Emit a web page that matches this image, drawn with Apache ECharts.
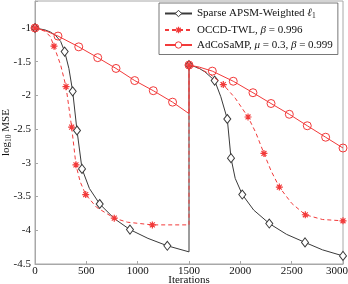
<!DOCTYPE html>
<html>
<head>
<meta charset="utf-8">
<script src="https://cdn.jsdelivr.net/npm/echarts@6/dist/echarts.min.js"></script>
<style>html,body{margin:0;padding:0;background:#fff;}#c{width:348px;height:284px;}</style>
</head>
<body>
<div id="c"></div>
<script>
// ---- data ----
var xTicks = [0, 500, 1000, 1500, 2000, 2500, 3000];
var yTicks = [-4.5, -4, -3.5, -3, -2.5, -2, -1.5, -1];

var seriesNames = ['Sparse APSM-Weighted ℓ1', 'OCCD-TWL, β = 0.996', 'AdCoSaMP, μ = 0.3, β = 0.999'];

var apsmX = [0, 100, 150, 200, 250, 289, 330, 367, 409, 458, 530, 630, 775, 925, 1100, 1289, 1500,
             1500, 1550, 1600, 1655, 1750, 1810, 1873, 1909, 1950, 2019, 2130, 2282, 2450, 2630, 2800, 3000];
var apsmY = [-1.00, -1.03, -1.06, -1.11, -1.20, -1.35, -1.60, -1.94, -2.52, -3.09, -3.38, -3.61, -3.83, -3.99, -4.12, -4.23, -4.32,
             -1.55, -1.57, -1.60, -1.65, -1.78, -2.02, -2.35, -2.93, -3.23, -3.47, -3.70, -3.90, -4.06, -4.18, -4.29, -4.38];
var apsmMarks = [0, 5, 7, 8, 9, 11, 13, 15, 17, 21, 23, 24, 26, 28, 30, 32];

var occdX = [0, 100, 150, 185, 250, 302, 357, 399, 440, 494, 600, 772, 900, 1143, 1500,
             1500, 1600, 1700, 1834, 1950, 2075, 2150, 2230, 2300, 2380, 2500, 2633, 2800, 3000];
var occdY = [-1.00, -1.05, -1.13, -1.27, -1.55, -1.87, -2.47, -3.03, -3.28, -3.47, -3.66, -3.82, -3.88, -3.92, -3.92,
             -1.55, -1.60, -1.68, -1.84, -2.04, -2.32, -2.55, -2.86, -3.12, -3.36, -3.60, -3.77, -3.84, -3.86];
var occdMarks = [0, 3, 5, 6, 7, 9, 11, 13, 15, 18, 20, 22, 24, 26, 28];

var adcoX = [0, 100, 224, 426, 611, 789, 971, 1152, 1340, 1500,
             1500, 1600, 1727, 1931, 2123, 2299, 2477, 2652, 2831, 3000];
var adcoY = [-1.00, -1.04, -1.12, -1.28, -1.44, -1.60, -1.78, -1.93, -2.10, -2.27,
             -1.55, -1.58, -1.64, -1.79, -1.96, -2.12, -2.28, -2.45, -2.62, -2.78];
var adcoMarks = [0, 2, 3, 4, 5, 6, 7, 8, 10, 12, 13, 14, 15, 16, 17, 18, 19];

// ---- build ----
function build(xs, ys, marks) {
  return xs.map(function (x, i) {
    var item = { value: [x, ys[i]] };
    if (marks.indexOf(i) < 0) item.symbol = 'none';
    return item;
  });
}
var SERIF = '"Liberation Serif", "DejaVu Serif", serif';
var RED = '#f23a3a';
var BLACK = '#3a3a3a';
var starPath = 'path://M5,0L5,10M0,5L10,5M1.5,1.5L8.5,8.5M8.5,1.5L1.5,8.5';

var chart = echarts.init(document.getElementById('c'), null, { renderer: 'canvas' });
chart.setOption({
  animation: false,
  backgroundColor: '#fff',
  grid: { left: 35, right: 5, top: 1, bottom: 20, containLabel: false, outerBoundsMode: 'none',
          show: true, borderColor: '#a8a8a8', borderWidth: 1 },
  legend: {
    data: [
      { name: seriesNames[0], itemStyle: { color: '#fff', borderColor: BLACK, borderWidth: 1 } },
      { name: seriesNames[1], itemStyle: { color: 'rgba(0,0,0,0)', borderColor: RED, borderWidth: 1.2 } },
      { name: seriesNames[2], itemStyle: { color: '#fff', borderColor: RED, borderWidth: 1 } }
    ],
    orient: 'vertical',
    left: 159,
    top: 3,
    padding: [5, 5, 4, 5],
    itemGap: 4,
    itemWidth: 27,
    itemHeight: 8,
    backgroundColor: '#fff',
    borderColor: '#555',
    borderWidth: 0.8,
    borderRadius: 0,
    textStyle: {
      fontFamily: SERIF, fontSize: 11, color: '#111',
      rich: {
        t: { fontFamily: SERIF, fontSize: 11, color: '#111' },
        i: { fontFamily: SERIF, fontSize: 11, fontStyle: 'italic', color: '#111' },
        s: { fontFamily: SERIF, fontSize: 7.5, color: '#111', verticalAlign: 'bottom', padding: [6, 0, 0, 0] }
      }
    },
    formatter: function (name) {
      if (name === seriesNames[0]) return '{t|Sparse APSM-Weighted }{i|ℓ}{s|1}';
      if (name === seriesNames[1]) return '{t|OCCD-TWL, }{i|β}{t| = 0.996}';
      return '{t|AdCoSaMP, }{i|μ}{t| = 0.3, }{i|β}{t| = 0.999}';
    }
  },
  xAxis: {
    type: 'value', min: 0, max: 3000, interval: 500,
    name: 'Iterations', nameLocation: 'middle', nameGap: 11, nameMoveOverlap: false,
    nameTextStyle: { fontFamily: SERIF, fontSize: 11, color: '#111' },
    axisLine: { show: true, lineStyle: { color: '#a8a8a8', width: 1 } },
    axisTick: { show: true, inside: true, length: 3, lineStyle: { color: '#a8a8a8' } },
    axisLabel: { fontFamily: SERIF, fontSize: 11, color: '#111', margin: 2,
      rich: { last: { fontFamily: SERIF, fontSize: 11, color: '#111', padding: [0, 12, 0, 0] } },
      formatter: function (v) {
        if (xTicks.indexOf(v) < 0) return '';
        if (v === xTicks[xTicks.length - 1]) return '{last|' + v + '}';
        return String(v);
      } },
    splitLine: { show: false }
  },
  yAxis: {
    type: 'value', min: -4.5, max: -0.6, interval: 0.5,
    name: 'log{s|10} MSE', nameLocation: 'middle', nameGap: 22, nameRotate: 90, nameMoveOverlap: false,
    nameTextStyle: { fontFamily: SERIF, fontSize: 11, color: '#111',
      rich: { s: { fontFamily: SERIF, fontSize: 7.5, color: '#111', padding: [6, 0, 0, 0], verticalAlign: 'bottom' } } },
    axisLine: { show: true, lineStyle: { color: '#a8a8a8', width: 1 } },
    axisTick: { show: true, inside: true, length: 3, lineStyle: { color: '#a8a8a8' } },
    axisLabel: { fontFamily: SERIF, fontSize: 11, color: '#111', margin: 4,
      formatter: function (v) {
        for (var k = 0; k < yTicks.length; k++) if (Math.abs(yTicks[k] - v) < 1e-6) return String(yTicks[k]);
        return '';
      } },
    splitLine: { show: false }
  },
  series: [
    {
      name: seriesNames[0], type: 'line', data: build(apsmX, apsmY, apsmMarks),
      showAllSymbol: true, symbol: 'diamond', symbolSize: [7, 9],
      lineStyle: { color: BLACK, width: 1 },
      itemStyle: { color: '#fff', borderColor: BLACK, borderWidth: 1 },
      z: 3
    },
    {
      name: seriesNames[1], type: 'line', data: build(occdX, occdY, occdMarks),
      showAllSymbol: true, symbol: starPath, symbolSize: 7,
      lineStyle: { color: RED, width: 1, type: [4, 3] },
      itemStyle: { color: 'rgba(0,0,0,0)', borderColor: RED, borderWidth: 1.2 },
      z: 4
    },
    {
      name: seriesNames[2], type: 'line', data: build(adcoX, adcoY, adcoMarks),
      showAllSymbol: true, symbol: 'circle', symbolSize: 8,
      lineStyle: { color: RED, width: 1 },
      itemStyle: { color: 'rgba(255,255,255,0)', borderColor: RED, borderWidth: 1 },
      z: 5
    }
  ]
});
</script>
</body>
</html>
